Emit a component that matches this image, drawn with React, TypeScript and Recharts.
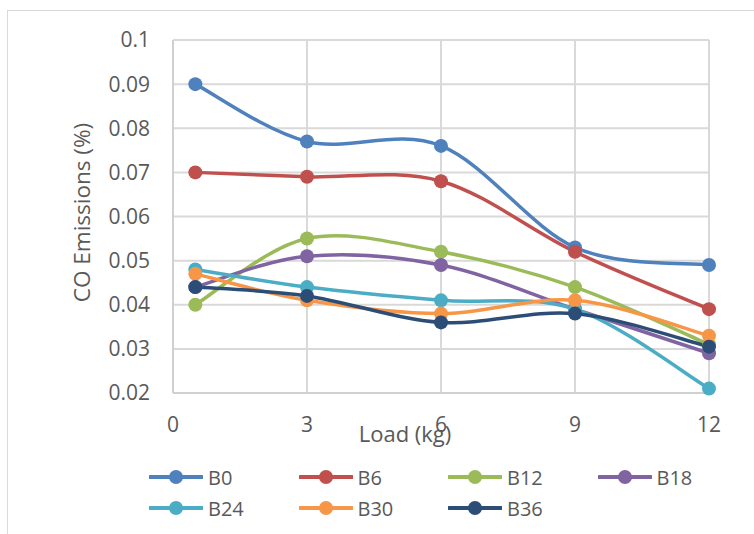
import React from 'react';
import { LineChart, Line, XAxis, YAxis, CartesianGrid, Legend } from 'recharts';

const loads = [0.5, 3, 6, 9, 12];
const b0 = [0.09, 0.077, 0.076, 0.053, 0.049];
const b6 = [0.07, 0.069, 0.068, 0.052, 0.039];
const b12 = [0.04, 0.055, 0.052, 0.044, 0.031];
const b18 = [0.044, 0.051, 0.049, 0.039, 0.029];
const b24 = [0.048, 0.044, 0.041, 0.039, 0.021];
const b30 = [0.047, 0.041, 0.038, 0.041, 0.033];
const b36 = [0.044, 0.042, 0.036, 0.038, 0.0305];

const xTicks = [0, 3, 6, 9, 12];
const yTicks = [0.02, 0.03, 0.04, 0.05, 0.06, 0.07, 0.08, 0.09, 0.1];

const series = [
  { key: 'B0', values: b0, color: '#4F81BD' },
  { key: 'B6', values: b6, color: '#C0504D' },
  { key: 'B12', values: b12, color: '#9BBB59' },
  { key: 'B18', values: b18, color: '#8064A2' },
  { key: 'B24', values: b24, color: '#4BACC6' },
  { key: 'B30', values: b30, color: '#F79646' },
  { key: 'B36', values: b36, color: '#2C4D75' },
];

const data = loads.map((load, i) => {
  const row: Record<string, number> = { load };
  series.forEach((s) => {
    row[s.key] = s.values[i];
  });
  return row;
});

const FONT = '"Open Sans", sans-serif';
const TEXT = '#595959';

// Excel-style smoothed line: Catmull-Rom segments written as cubic beziers
const smoothCurve = (context: any) => {
  let pts: [number, number][] = [];
  return {
    areaStart() {},
    areaEnd() {},
    lineStart() {
      pts = [];
    },
    point(x: number, y: number) {
      pts.push([+x, +y]);
    },
    lineEnd() {
      if (!pts.length) return;
      context.moveTo(pts[0][0], pts[0][1]);
      for (let i = 0; i < pts.length - 1; i++) {
        const p0 = pts[i - 1] || pts[i];
        const p1 = pts[i];
        const p2 = pts[i + 1];
        const p3 = pts[i + 2] || p2;
        context.bezierCurveTo(
          p1[0] + (p2[0] - p0[0]) / 6,
          p1[1] + (p2[1] - p0[1]) / 6,
          p2[0] - (p3[0] - p1[0]) / 6,
          p2[1] - (p3[1] - p1[1]) / 6,
          p2[0],
          p2[1]
        );
      }
    },
  };
};

const renderLegend = () => (
  <div style={{ position: 'relative', width: 754, height: 62 }}>
    {series.map((s, i) => {
      const col = i % 4;
      const row = Math.floor(i / 4);
      return (
        <div
          key={s.key}
          style={{
            position: 'absolute',
            left: 149 + col * 149.5,
            top: row * 31,
            height: 30,
            display: 'flex',
            alignItems: 'center',
          }}
        >
          <svg width={54} height={18}>
            <line x1={1} y1={9} x2={53} y2={9} stroke={s.color} strokeWidth={4} strokeLinecap="round" />
            <circle cx={27} cy={9} r={7} fill={s.color} />
          </svg>
          <span style={{ marginLeft: 5, fontFamily: FONT, fontSize: 20, color: TEXT }}>{s.key}</span>
        </div>
      );
    })}
  </div>
);

export default function App() {
  return (
    <div style={{ position: 'fixed', left: 0, top: 0, width: 754, height: 534, overflow: 'hidden', background: '#fff' }}>
      <div
        style={{
          position: 'absolute',
          left: 7,
          top: 10,
          width: 800,
          height: 600,
          borderTop: '1.5px solid #d9d9d9',
          borderLeft: '1.5px solid #d9d9d9',
        }}
      />
      <div style={{ position: 'absolute', left: 0, top: 0 }}>
        <LineChart width={754} height={534} data={data} margin={{ top: 40, right: 45, left: 73, bottom: 49 }}>
          <CartesianGrid stroke="#d9d9d9" strokeWidth={2} />
          <XAxis
            dataKey="load"
            type="number"
            domain={[0, 12]}
            ticks={xTicks}
            height={30}
            tickSize={0}
            tickMargin={24}
            stroke="#d0d0d0"
            strokeWidth={2}
            tick={{ fill: TEXT, fontSize: 21, fontFamily: FONT }}
            label={{
              content: (props: any) => {
                const vb = props.viewBox;
                return (
                  <text
                    x={vb.x + vb.width / 2 - 36}
                    y={vb.y + vb.height + 19}
                    textAnchor="middle"
                    fill={TEXT}
                    fontSize={22}
                    fontFamily={FONT}
                  >
                    Load (kg)
                  </text>
                );
              },
            }}
          />
          <YAxis
            type="number"
            domain={[0.02, 0.1]}
            ticks={yTicks}
            width={100}
            tickSize={0}
            tickMargin={23}
            stroke="#d0d0d0"
            strokeWidth={2}
            tickFormatter={(v: number) => String(v)}
            tick={{ fill: TEXT, fontSize: 21, fontFamily: FONT }}
            label={{
              content: (props: any) => {
                const vb = props.viewBox;
                const cx = vb.x + 9;
                const cy = vb.y + vb.height / 2 - 4;
                return (
                  <text
                    x={cx}
                    y={cy}
                    dy="0.35em"
                    transform={`rotate(-90, ${cx}, ${cy})`}
                    textAnchor="middle"
                    fill={TEXT}
                    fontSize={22.5}
                    fontFamily={FONT}
                  >
                    CO Emissions (%)
                  </text>
                );
              },
            }}
          />
          <Legend
            verticalAlign="bottom"
            content={renderLegend}
            wrapperStyle={{ left: 0, top: 462, width: 754 }}
          />
          {series.map((s) => (
            <Line
              key={s.key}
              dataKey={s.key}
              name={s.key}
              type={smoothCurve as any}
              stroke={s.color}
              strokeWidth={3.5}
              dot={{ r: 7, fill: s.color, stroke: 'none' }}
              activeDot={false}
              isAnimationActive={false}
            />
          ))}
        </LineChart>
      </div>
    </div>
  );
}
